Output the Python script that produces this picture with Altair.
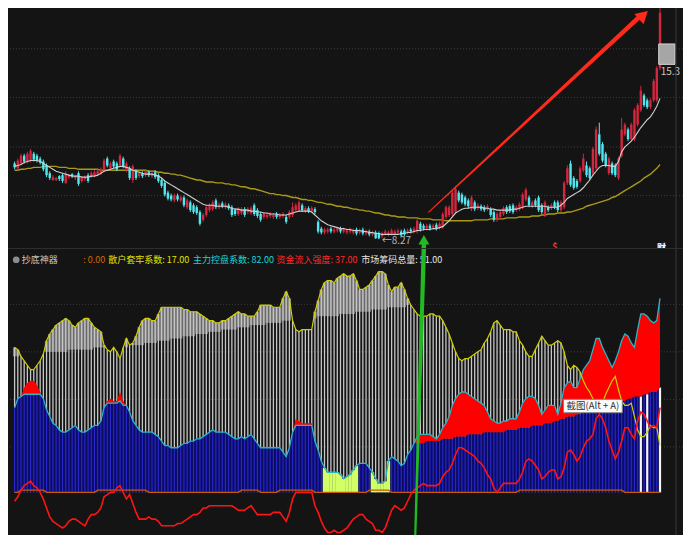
import altair as alt
import pandas as pd

BG = "#141414"
W, H_TOP, H_BOT = 675, 241, 286
X_DOM = [-0.5, 207.63]
P_DOM = [7.87, 17.79]
V_DOM = [-19.13, 109.13]
FONT = "Noto Sans CJK SC"

# ---------------- price panel data ----------------
opens = [
 11.39, 11.19, 11.39, 11.71, 11.47, 11.51, 11.79, 11.71, 11.59, 11.47,
 11.31, 10.99, 10.71, 10.71, 10.87, 10.91, 10.59, 10.83, 10.95, 10.79,
 10.99, 10.67, 10.75, 10.91, 10.87, 10.91, 10.95, 10.99, 11.11, 11.59,
 11.19, 11.47, 11.39, 11.31, 11.59, 11.11, 11.19, 10.71, 11.07, 10.87,
 10.99, 10.91, 11.03, 10.87, 11.03, 10.91, 10.71, 10.59, 10.19, 10.07,
 9.87, 10.07, 9.87, 9.99, 9.59, 9.79, 9.67, 9.59, 9.39, 9.07,
 9.27, 9.47, 9.51, 9.87, 9.59, 9.75, 9.59, 9.67, 9.59, 9.47,
 9.31, 9.35, 9.51, 9.39, 9.35, 9.67, 9.47, 9.31, 9.19, 9.19,
 9.23, 9.19, 9.31, 9.19, 9.23, 9.19, 9.19, 9.27, 9.47, 9.47,
 9.67, 9.43, 9.55, 9.43, 9.51, 8.99, 8.71, 8.55, 8.59, 8.71,
 8.59, 8.63, 8.71, 8.59, 8.55, 8.59, 8.55, 8.67, 8.55, 8.67,
 8.51, 8.59, 8.47, 8.55, 8.51, 8.39, 8.51, 8.47, 8.51, 8.51,
 8.55, 8.59, 8.63, 8.55, 8.67, 8.59, 8.59, 8.91, 8.83, 8.71,
 8.83, 8.75, 8.87, 8.75, 8.79, 9.19, 9.27, 9.31, 9.39, 10.19,
 10.11, 9.99, 9.87, 9.51, 9.79, 9.55, 9.63, 9.59, 9.51, 9.51,
 9.39, 9.07, 9.19, 9.31, 9.59, 9.63, 9.67, 9.47, 9.51, 9.59,
 9.91, 9.99, 9.63, 9.87, 9.99, 9.67, 9.27, 9.59, 9.55, 9.79,
 9.79, 9.47, 9.59, 10.59, 11.39, 10.79, 10.67, 10.67, 11.11, 11.31,
 11.19, 10.99, 11.19, 12.59, 12.19, 11.79, 10.99, 11.39, 11.31, 10.79,
 11.71, 12.59, 12.79, 12.39, 12.39, 12.99, 13.59, 14.19, 13.99, 13.71,
 13.99, 13.99, 15.31]
highs = [
 11.47, 11.59, 11.79, 11.79, 11.87, 11.99, 11.87, 11.79, 11.67, 11.55,
 11.39, 11.07, 10.91, 10.83, 10.91, 10.99, 11.07, 10.95, 10.99, 10.91,
 11.07, 10.87, 10.91, 10.99, 11.07, 11.11, 11.15, 11.23, 11.59, 11.67,
 11.47, 11.55, 11.47, 11.79, 11.67, 11.47, 11.27, 11.35, 11.15, 11.07,
 11.07, 11.15, 11.11, 11.07, 11.11, 10.99, 10.79, 10.67, 10.27, 10.15,
 10.15, 10.15, 10.07, 10.07, 9.95, 9.87, 9.75, 9.67, 9.47, 9.35,
 9.67, 9.75, 9.87, 9.95, 9.79, 9.83, 9.79, 9.75, 9.67, 9.55,
 9.59, 9.59, 9.59, 9.59, 9.63, 9.75, 9.55, 9.39, 9.39, 9.35,
 9.39, 9.35, 9.39, 9.35, 9.39, 9.27, 9.47, 9.79, 9.75, 9.87,
 9.75, 9.63, 9.63, 9.63, 9.59, 9.07, 8.79, 8.75, 8.75, 8.79,
 8.75, 8.79, 8.79, 8.75, 8.71, 8.75, 8.71, 8.75, 8.71, 8.75,
 8.67, 8.67, 8.63, 8.63, 8.59, 8.59, 8.67, 8.63, 8.71, 8.67,
 8.71, 8.67, 8.71, 8.71, 8.75, 8.79, 9.11, 8.99, 8.91, 8.91,
 8.91, 8.91, 8.95, 8.99, 9.39, 9.67, 9.67, 10.27, 10.47, 10.27,
 10.19, 10.07, 9.95, 10.07, 9.87, 9.75, 9.71, 9.67, 9.71, 9.59,
 9.47, 9.39, 9.47, 9.63, 9.67, 9.71, 9.75, 9.67, 9.79, 10.19,
 10.39, 10.07, 9.87, 9.95, 10.07, 9.75, 9.87, 9.67, 9.75, 9.87,
 9.87, 9.87, 10.67, 11.31, 11.51, 10.87, 10.75, 11.27, 11.79, 11.47,
 11.27, 12.07, 12.91, 13.07, 12.27, 11.87, 11.67, 11.47, 11.39, 11.67,
 13.27, 13.07, 12.87, 13.07, 13.67, 13.87, 14.59, 14.27, 14.07, 14.07,
 14.87, 15.39, 18.59]
lows = [
 11.15, 11.11, 11.31, 11.39, 11.39, 11.43, 11.47, 11.43, 11.35, 11.07,
 10.83, 10.71, 10.67, 10.67, 10.67, 10.59, 10.55, 10.75, 10.79, 10.71,
 10.47, 10.59, 10.67, 10.59, 10.79, 10.83, 10.87, 10.91, 11.03, 11.23,
 11.11, 11.19, 11.07, 11.23, 11.19, 11.03, 10.71, 10.59, 10.71, 10.79,
 10.79, 10.83, 10.83, 10.79, 10.75, 10.59, 10.39, 10.03, 9.87, 9.83,
 9.79, 9.83, 9.79, 9.59, 9.51, 9.39, 9.31, 9.27, 8.83, 8.99,
 9.19, 9.39, 9.43, 9.51, 9.51, 9.55, 9.51, 9.47, 9.19, 9.23,
 9.23, 9.27, 9.19, 9.31, 9.27, 9.23, 9.15, 8.99, 9.11, 9.11,
 9.15, 9.11, 9.11, 9.11, 9.15, 8.91, 9.11, 9.19, 9.39, 9.39,
 9.39, 9.35, 9.35, 9.35, 9.31, 8.51, 8.47, 8.47, 8.51, 8.51,
 8.51, 8.55, 8.51, 8.51, 8.47, 8.51, 8.47, 8.43, 8.47, 8.43,
 8.43, 8.39, 8.39, 8.29, 8.27, 8.31, 8.43, 8.39, 8.43, 8.43,
 8.47, 8.35, 8.39, 8.47, 8.51, 8.51, 8.51, 8.59, 8.63, 8.63,
 8.63, 8.67, 8.63, 8.67, 8.71, 9.11, 9.19, 9.23, 9.31, 9.79,
 9.71, 9.63, 9.55, 9.43, 9.43, 9.47, 9.43, 9.39, 9.43, 9.19,
 8.99, 8.99, 9.11, 9.23, 9.31, 9.35, 9.31, 9.39, 9.43, 9.51,
 9.83, 9.59, 9.55, 9.59, 9.39, 9.31, 9.19, 9.39, 9.47, 9.51,
 9.39, 9.39, 9.51, 10.51, 10.43, 10.31, 10.35, 10.59, 11.03, 10.83,
 10.71, 10.91, 11.11, 11.71, 11.43, 11.23, 10.91, 10.91, 10.83, 10.71,
 11.63, 12.51, 12.31, 12.31, 12.31, 12.91, 13.51, 13.71, 13.63, 13.63,
 13.91, 13.91, 15.23]
closes = [
 11.23, 11.51, 11.71, 11.47, 11.79, 11.91, 11.55, 11.51, 11.43, 11.15,
 10.91, 10.79, 10.83, 10.79, 10.75, 10.67, 10.99, 10.91, 10.87, 10.87,
 10.55, 10.79, 10.83, 10.67, 10.99, 11.03, 11.07, 11.15, 11.51, 11.31,
 11.39, 11.27, 11.15, 11.71, 11.27, 11.39, 10.79, 11.27, 10.79, 10.99,
 10.87, 11.07, 10.91, 10.99, 10.83, 10.67, 10.47, 10.11, 9.95, 9.91,
 10.07, 9.91, 9.99, 9.67, 9.87, 9.47, 9.39, 9.35, 8.91, 9.27,
 9.59, 9.67, 9.79, 9.59, 9.71, 9.63, 9.71, 9.55, 9.27, 9.31,
 9.51, 9.51, 9.27, 9.51, 9.55, 9.31, 9.23, 9.07, 9.31, 9.27,
 9.31, 9.27, 9.19, 9.27, 9.31, 8.99, 9.39, 9.59, 9.67, 9.79,
 9.47, 9.55, 9.43, 9.55, 9.39, 8.59, 8.55, 8.67, 8.67, 8.59,
 8.67, 8.71, 8.59, 8.67, 8.63, 8.67, 8.63, 8.51, 8.63, 8.51,
 8.59, 8.47, 8.55, 8.31, 8.31, 8.51, 8.59, 8.55, 8.63, 8.59,
 8.63, 8.43, 8.47, 8.63, 8.59, 8.71, 9.03, 8.67, 8.71, 8.83,
 8.71, 8.83, 8.71, 8.91, 9.31, 9.59, 9.59, 10.19, 10.35, 9.87,
 9.79, 9.71, 9.63, 9.99, 9.51, 9.67, 9.51, 9.47, 9.63, 9.27,
 9.07, 9.31, 9.39, 9.55, 9.39, 9.43, 9.39, 9.59, 9.71, 10.11,
 10.31, 9.67, 9.79, 9.67, 9.47, 9.39, 9.79, 9.47, 9.67, 9.59,
 9.47, 9.79, 10.59, 11.19, 10.51, 10.39, 10.43, 11.19, 11.59, 10.91,
 10.79, 11.99, 12.79, 11.79, 11.51, 11.31, 11.59, 10.99, 10.91, 11.59,
 12.79, 12.99, 12.39, 12.99, 13.59, 13.79, 14.39, 13.79, 13.71, 13.99,
 14.79, 15.31, 17.59]
ma_short = [
 11.27, 11.31, 11.35, 11.43, 11.47, 11.51, 11.51, 11.51, 11.47, 11.39,
 11.31, 11.23, 11.15, 11.07, 11.03, 10.99, 10.95, 10.91, 10.87, 10.87,
 10.87, 10.83, 10.83, 10.83, 10.87, 10.87, 10.91, 10.99, 11.07, 11.11,
 11.15, 11.19, 11.23, 11.27, 11.27, 11.23, 11.19, 11.11, 11.07, 11.03,
 10.99, 10.95, 10.95, 10.95, 10.91, 10.87, 10.79, 10.67, 10.59, 10.51,
 10.43, 10.35, 10.27, 10.19, 10.11, 10.03, 9.95, 9.87, 9.79, 9.71,
 9.67, 9.67, 9.67, 9.63, 9.63, 9.63, 9.63, 9.59, 9.55, 9.51,
 9.51, 9.47, 9.47, 9.47, 9.43, 9.43, 9.39, 9.39, 9.35, 9.35,
 9.31, 9.31, 9.31, 9.27, 9.27, 9.27, 9.31, 9.35, 9.39, 9.43,
 9.43, 9.43, 9.43, 9.39, 9.27, 9.15, 9.03, 8.95, 8.87, 8.83,
 8.79, 8.75, 8.71, 8.71, 8.67, 8.67, 8.63, 8.63, 8.63, 8.59,
 8.59, 8.55, 8.55, 8.51, 8.51, 8.47, 8.47, 8.47, 8.47, 8.47,
 8.47, 8.51, 8.51, 8.55, 8.55, 8.59, 8.63, 8.63, 8.67, 8.67,
 8.67, 8.71, 8.71, 8.75, 8.79, 8.91, 9.03, 9.19, 9.35, 9.43,
 9.51, 9.55, 9.55, 9.59, 9.59, 9.59, 9.59, 9.55, 9.55, 9.51,
 9.51, 9.47, 9.47, 9.47, 9.47, 9.47, 9.51, 9.51, 9.55, 9.59,
 9.63, 9.63, 9.63, 9.63, 9.63, 9.63, 9.63, 9.59, 9.59, 9.59,
 9.59, 9.67, 9.79, 9.95, 10.03, 10.11, 10.19, 10.27, 10.39, 10.55,
 10.71, 10.91, 11.07, 11.23, 11.31, 11.31, 11.31, 11.27, 11.27, 11.47,
 11.87, 12.07, 12.19, 12.31, 12.47, 12.67, 12.87, 13.03, 13.19, 13.31,
 13.51, 13.75, 14.07]
ma_long = [
 11.11, 11.11, 11.15, 11.15, 11.19, 11.19, 11.23, 11.23, 11.23, 11.27,
 11.27, 11.27, 11.27, 11.27, 11.23, 11.23, 11.23, 11.19, 11.19, 11.19,
 11.15, 11.15, 11.15, 11.15, 11.15, 11.15, 11.15, 11.11, 11.11, 11.11,
 11.11, 11.11, 11.11, 11.11, 11.11, 11.11, 11.11, 11.11, 11.11, 11.11,
 11.11, 11.11, 11.07, 11.07, 11.07, 11.03, 11.03, 10.99, 10.99, 10.95,
 10.95, 10.91, 10.91, 10.87, 10.83, 10.79, 10.75, 10.71, 10.71, 10.67,
 10.63, 10.63, 10.63, 10.59, 10.59, 10.59, 10.55, 10.55, 10.51, 10.51,
 10.47, 10.43, 10.43, 10.39, 10.35, 10.35, 10.31, 10.27, 10.23, 10.19,
 10.15, 10.15, 10.11, 10.11, 10.07, 10.07, 10.03, 9.99, 9.99, 9.95,
 9.91, 9.91, 9.87, 9.87, 9.83, 9.79, 9.79, 9.75, 9.71, 9.71,
 9.67, 9.63, 9.63, 9.59, 9.59, 9.55, 9.51, 9.51, 9.47, 9.47,
 9.43, 9.43, 9.39, 9.35, 9.35, 9.31, 9.27, 9.27, 9.23, 9.23,
 9.19, 9.19, 9.19, 9.15, 9.15, 9.15, 9.15, 9.11, 9.11, 9.11,
 9.11, 9.07, 9.07, 9.07, 9.07, 9.03, 9.03, 9.03, 9.03, 9.03,
 9.03, 9.03, 9.03, 9.03, 9.07, 9.07, 9.07, 9.07, 9.07, 9.11,
 9.11, 9.11, 9.11, 9.11, 9.15, 9.15, 9.15, 9.15, 9.19, 9.19,
 9.19, 9.19, 9.23, 9.23, 9.23, 9.27, 9.27, 9.31, 9.31, 9.31,
 9.35, 9.35, 9.35, 9.39, 9.39, 9.43, 9.47, 9.51, 9.55, 9.63,
 9.67, 9.71, 9.75, 9.79, 9.83, 9.87, 9.91, 9.99, 10.03, 10.11,
 10.19, 10.27, 10.35, 10.43, 10.51, 10.59, 10.67, 10.79, 10.87, 10.95,
 11.07, 11.19, 11.35]

top_grid = [10.07, 12.07, 14.11, 16.11]

# ---------------- indicator panel data ----------------
gray_top = [
 65, 64, 61, 59, 57, 55, 55, 57, 59, 62,
 68, 71, 73, 75, 76, 77, 78, 77, 75, 74,
 76, 77, 78, 78, 76, 74, 73, 72, 66, 64,
 63, 65, 63, 60, 65, 69, 66, 67, 70, 74,
 77, 78, 78, 77, 77, 80, 83, 83, 83, 83,
 83, 83, 83, 82, 82, 81, 81, 81, 80, 79,
 78, 77, 77, 76, 76, 77, 77, 78, 79, 80,
 81, 80, 80, 79, 79, 79, 81, 84, 84, 84,
 84, 83, 83, 83, 87, 90, 87, 77, 73, 72,
 73, 73, 73, 73, 81, 86, 91, 94, 95, 95,
 94, 96, 97, 98, 97, 97, 98, 95, 91, 91,
 92, 93, 95, 97, 99, 99, 98, 93, 90, 92,
 92, 94, 91, 87, 84, 82, 80, 79, 79, 79,
 80, 80, 79, 79, 77, 74, 71, 67, 63, 60,
 59, 60, 60, 61, 62, 63, 64, 67, 69, 72,
 76, 77, 75, 73, 73, 73, 72, 72, 68, 66,
 63, 61, 61, 64, 67, 70, 68, 66, 66, 67,
 68, 67, 63, 57, 55, 57, 56, 54, 50, 47,
 45, 42, 39, 37, 40, 44, 47, 50, 52, 46,
 41, 39, 39, 40, 34, 28, 25, 25, 27, 30,
 29, 29, 21]
light_base = [
 61, 61, 61, 61, 62, 62, 62, 62, 62, 62,
 63, 63, 63, 63, 63, 63, 63, 64, 64, 64,
 64, 64, 64, 64, 64, 65, 65, 65, 65, 65,
 65, 65, 65, 65, 65, 65, 66, 66, 66, 66,
 66, 67, 67, 67, 67, 68, 68, 68, 68, 69,
 69, 69, 69, 70, 70, 70, 70, 71, 71, 71,
 71, 72, 72, 72, 72, 73, 73, 73, 73, 73,
 74, 74, 74, 74, 75, 75, 75, 75, 75, 76,
 76, 76, 76, 76, 77, 77, 77, 77, 77, 78,
 78, 78, 78, 78, 78, 79, 79, 79, 79, 79,
 79, 79, 80, 80, 80, 80, 80, 81, 81, 81,
 81, 81, 82, 82, 82, 82, 82, 83, 83, 83,
 83, 83, 83, 84, 84, 84, 84, 85, 85, 85,
 85, 86, 86, 86, 86, 86, 87, 87, 87, 87,
 87, 88, 88, 88, 88, 88, 89, 89, 89, 89,
 89, 89, 90, 90, 90, 90, 90, 90, 91, 91,
 91, 91, 91, 91, 92, 92, 92, 92, 92, 92,
 93, 93, 93, 93, 93, 93, 94, 94, 94, 94,
 94, 94, 95, 95, 95, 95, 95, 95, 96, 96,
 96, 96, 96, 96, 96, 97, 97, 97, 97, 97,
 97, 98, 98]
cyan_line = [
 38, 42, 43, 44, 44, 44, 44, 44, 44, 42,
 37, 34, 31, 30, 28, 27, 27, 28, 29, 30,
 28, 27, 27, 28, 29, 30, 30, 32, 38, 40,
 40, 40, 40, 41, 39, 39, 36, 32, 30, 28,
 27, 27, 27, 27, 26, 25, 23, 21, 21, 20,
 20, 20, 21, 22, 22, 23, 23, 24, 24, 25,
 26, 27, 28, 27, 27, 27, 27, 26, 25, 24,
 24, 25, 24, 25, 26, 24, 22, 20, 20, 20,
 20, 20, 20, 20, 18, 16, 20, 27, 30, 30,
 30, 30, 30, 30, 23, 19, 14, 11, 9, 9,
 9, 9, 8, 6, 7, 8, 10, 12, 13, 13,
 13, 11, 9, 6, 4, 4, 5, 14, 16, 15,
 14, 12, 13, 17, 19, 22, 25, 26, 26, 26,
 26, 25, 24, 26, 29, 31, 34, 39, 42, 44,
 45, 45, 44, 43, 42, 41, 40, 39, 36, 33,
 32, 31, 31, 32, 32, 33, 33, 33, 36, 40,
 42, 43, 43, 42, 39, 35, 37, 39, 39, 39,
 35, 40, 47, 49, 50, 47, 47, 51, 55, 57,
 59, 64, 69, 69, 65, 62, 59, 56, 59, 63,
 68, 71, 70, 67, 65, 73, 80, 80, 79, 77,
 76, 77, 87]
blue_rise = [          # blue bars from bar 126 on (before that they reach the cyan line)
 22, 22, 22, 23,
 23, 23, 23, 23, 24, 24, 24, 24, 25, 25,
 25, 25, 26, 26, 26, 26, 26, 27, 27, 27,
 27, 27, 27, 27, 28, 28, 28, 28, 29, 29,
 29, 29, 30, 30, 30, 30, 31, 31, 31, 32,
 32, 33, 33, 34, 34, 34, 35, 35, 36, 36,
 37, 37, 38, 38, 38, 39, 39, 40, 40, 40,
 41, 41, 42, 42, 43, 43, 43, 44, 44, 45,
 45, 45, 47]
red_line = [
 -4, -2, 1, 3, 4, 5, 3, 2, 0, -3,
 -7, -11, -13, -14, -15, -16, -15, -13, -12, -12,
 -13, -14, -15, -12, -10, -10, -9, -7, -2, -1,
 0, 0, 2, 3, 0, -3, -1, -5, -9, -12,
 -12, -12, -11, -12, -12, -13, -15, -15, -15, -15,
 -15, -14, -14, -13, -12, -11, -10, -10, -9, -7,
 -7, -6, -6, -6, -6, -6, -6, -6, -6, -7,
 -8, -8, -8, -7, -6, -8, -10, -10, -10, -10,
 -10, -9, -9, -9, -11, -13, -9, -3, 0, 0,
 0, 0, 0, 0, -6, -9, -13, -16, -18, -18,
 -17, -18, -18, -17, -16, -14, -12, -11, -10, -10,
 -12, -13, -14, -17, -17, -18, -16, -12, -8, -6,
 -7, -8, -7, -4, -1, 1, 2, 3, 4, 3,
 3, 3, 3, 4, 7, 9, 10, 13, 17, 20,
 20, 19, 18, 17, 16, 14, 13, 11, 8, 6,
 2, 0, 2, 4, 4, 4, 4, 4, 6, 9,
 14, 15, 14, 12, 10, 6, 7, 9, 10, 10,
 6, 7, 11, 18, 19, 17, 14, 16, 20, 23,
 24, 26, 33, 35, 33, 29, 23, 19, 15, 18,
 23, 29, 29, 26, 24, 32, 36, 35, 32, 29,
 30, 29, 38]
base_flag = [
 0, 0, 1, 1, 1, 1, 1, 1, 1, 1,
 0, 0, 0, 0, 0, 0, 0, 0, 0, 0,
 0, 0, 0, 0, 0, 0, 1, 1, 1, 1,
 1, 1, 1, 1, 1, 1, 1, 1, 1, 1,
 1, 1, 0, 0, 0, 0, 0, 0, 0, 0,
 0, 0, 0, 0, 0, 0, 0, 0, 0, 0,
 0, 0, 0, 0, 0, 0, 0, 0, 0, 0,
 0, 1, 1, 1, 1, 1, 1, 0, 0, 0,
 0, 0, 0, 1, 1, 1, 1, 1, 1, 1,
 1, 1, 1, 1, 0, 0, 0, 0, 0, 0,
 0, 0, 0, 0, 0, 0, 0, 0, 0, 0,
 0, 1, 1, 1, 1, 1, 1, 1, 0, 0,
 0, 0, 0, 0, 0, 0, 0, 0, 0, 0,
 0, 0, 0, 0, 0, 0, 0, 0, 0, 0,
 0, 0, 0, 0, 0, 0, 0, 0, 0, 0,
 0, 0, 0, 0, 0, 0, 0, 0, 1, 1,
 1, 1, 1, 1, 1, 1, 1, 1, 1, 1,
 1, 1, 1, 1, 1, 1, 1, 1, 1, 1,
 1, 1, 1, 1, 1, 1, 1, 1, 1, 1,
 1, 0, 0, 0, 0, 0, 0, 0, 0, 0,
 0, 0, 0]
lime_bars = [97, 98, 99, 100, 101, 102, 103, 104, 105, 106, 107,
             112, 113, 114, 115, 116, 117]
white_bars = [196, 198, 202]
peak_group = [1, 1, 1, 1, 1, 1, 1, 1, 2, 2, 2, 2, 2, 2, 2, 2, 3, 3, 3, 3, 3, 3, 3, 3]
peak_i = [2, 3, 4, 5, 6, 7, 8, 9, 28, 29, 30, 31, 32, 33, 34, 35, 87, 88, 89, 90, 91, 92, 93, 94]
peak_top = [43, 47, 49, 50, 50, 48, 45, 42, 38, 41, 42, 41, 41, 45, 41, 39, 27, 33, 32, 31, 31, 31, 31, 23]
bot_grid = [84.3, 63.0, 41.7, 20.4]

header_x = [2.2, 21.5, 29.3, 55.8, 82.0, 108.5]
header_text = ["抄底神器", ": 0.00", "散户套牢系数: 17.00", "主力控盘系数: 82.00",
               "资金流入强度: 37.00", "市场筹码总量: 51.00"]
header_color = ["#c8c8c8", "#d26a00", "#e2e200", "#1ad4d4", "#ff2a2a", "#e8e8e8"]

n = len(opens)
lens = [len(v) for v in (opens, highs, lows, closes, ma_short, ma_long, gray_top,
                         light_base, cyan_line, red_line, base_flag)]
assert all(l == n for l in lens) and 126 + len(blue_rise) == n, lens

blue_top = cyan_line[:126] + blue_rise
kind = ["lime" if i in lime_bars else ("white" if i in white_bars else "blue") for i in range(n)]

df = pd.DataFrame({
    "i": list(range(n)), "open": opens, "high": highs, "low": lows, "close": closes,
    "ma_short": ma_short, "ma_long": ma_long,
    "gray_top": gray_top, "light_base": light_base, "cyan": cyan_line,
    "blue_top": blue_top, "red_line": red_line, "base_flag": base_flag, "kind": kind,
})
df["dir"] = ["up" if c >= o else "down" for o, c in zip(opens, closes)]

peaks = pd.DataFrame({"g": peak_group, "i": peak_i, "top": peak_top,
                      "base": [cyan_line[k] for k in peak_i]})

xs = alt.Scale(domain=X_DOM, nice=False, zero=False)
ps = alt.Scale(domain=P_DOM, nice=False, zero=False)
vs = alt.Scale(domain=V_DOM, nice=False, zero=False)
X = alt.X("i:Q", scale=xs, axis=None)

def PY(f):
    return alt.Y(f, scale=ps, axis=None)

def VY(f):
    return alt.Y(f, scale=vs, axis=None)

RED_C, CYAN_C = "#d3263f", "#52e8f0"
candle_col = alt.Color("dir:N", scale=alt.Scale(domain=["up", "down"], range=[RED_C, CYAN_C]), legend=None)

# ---------------- top panel ----------------
tb = alt.Chart(df)
t_grid = alt.Chart(pd.DataFrame({"p": top_grid})).mark_rule(
    color="#3c3c3c", strokeDash=[1, 2], strokeWidth=1, clip=True).encode(y=PY("p:Q"))
t_wick = tb.mark_rule(strokeWidth=1, clip=True).encode(x=X, y=PY("low:Q"), y2="high:Q", color=candle_col)
t_body = tb.mark_bar(size=2.4, clip=True).encode(x=X, y=PY("open:Q"), y2="close:Q", color=candle_col)
t_ma1 = tb.mark_line(color="#cfcfcf", strokeWidth=1.1, clip=True).encode(x=X, y=PY("ma_short:Q"))
t_ma2 = tb.mark_line(color="#a89a16", strokeWidth=1.4, clip=True).encode(x=X, y=PY("ma_long:Q"))

arrow = pd.DataFrame({"i": [129.6, 195.6], "p": [9.39, 17.43], "w": [1.2, 4.5]})
t_arrow = alt.Chart(arrow).mark_trail(color="#ff2a1a", clip=True).encode(
    x=alt.X("i:Q", scale=xs, axis=None), y=PY("p:Q"), size=alt.Size("w:Q", scale=None, legend=None))
t_head = alt.Chart(pd.DataFrame({"i": [196.8], "p": [17.5]})).mark_point(
    shape="triangle-up", filled=True, angle=48, size=190, color="#ff2a1a", opacity=1, clip=True
).encode(x=X, y=PY("p:Q"))

g_top = pd.DataFrame({"i": [128.1, 128.05], "p": [8.09, 7.78], "w": [4.5, 4.5]})
t_green = alt.Chart(g_top).mark_trail(color="#22b922", clip=True).encode(
    x=X, y=PY("p:Q"), size=alt.Size("w:Q", scale=None, legend=None))
t_ghead = alt.Chart(pd.DataFrame({"i": [128.1], "p": [8.25]})).mark_point(
    shape="triangle-up", filled=True, size=120, color="#22b922", opacity=1, clip=True
).encode(x=X, y=PY("p:Q"))

box = pd.DataFrame({"i": [201.6], "i2": [206.7], "p": [16.31], "p2": [15.47]})
t_box = alt.Chart(box).mark_rect(color="#a6a6a6", stroke="#d4d4d4", strokeWidth=1, clip=True).encode(
    x=X, x2="i2:Q", y=PY("p:Q"), y2="p2:Q")
cai = pd.DataFrame({"i": [201.3], "i2": [203.7], "p": [8.11], "p2": [7.71]})
t_cai = alt.Chart(cai).mark_rect(color="#2f52a4", clip=True).encode(x=X, x2="i2:Q", y=PY("p:Q"), y2="p2:Q")

labels = pd.DataFrame({
    "i": [202.2, 114.9, 169.1, 202.5],
    "p": [15.15, 8.19, 7.95, 7.93],
    "t": ["15.3", "←8.27", "$", "财"],
    "c": ["#c8c8c8", "#b4b4b4", "#ff3030", "#ffffff"],
})
t_lab1 = alt.Chart(labels.iloc[:2]).mark_text(align="left", baseline="middle", fontSize=10, font=FONT, clip=True).encode(
    x=X, y=PY("p:Q"), text="t:N", color=alt.Color("c:N", scale=None))
t_lab2 = alt.Chart(labels.iloc[2:]).mark_text(align="center", baseline="middle", fontSize=9, fontWeight="bold", font=FONT, clip=True).encode(
    x=X, y=PY("p:Q"), text="t:N", color=alt.Color("c:N", scale=None))
t_edge = alt.Chart(pd.DataFrame({"i": [207.0]})).mark_rule(color="#3a3a3a", strokeWidth=1, clip=True).encode(x=X)
t_div = alt.Chart(pd.DataFrame({"p": [7.89]})).mark_rule(color="#2e2e2e", strokeWidth=1, clip=True).encode(y=PY("p:Q"))

top = alt.layer(t_grid, t_ma2, t_wick, t_body, t_ma1, t_arrow, t_head, t_green, t_ghead,
                t_box, t_cai, t_lab1, t_lab2, t_edge, t_div).properties(width=W, height=H_TOP)

# ---------------- bottom panel ----------------
bb = alt.Chart(df)
b_grid = alt.Chart(pd.DataFrame({"v": bot_grid})).mark_rule(
    color="#3c3c3c", strokeDash=[1, 2], strokeWidth=1, clip=True).encode(y=VY("v:Q"))
b_light = bb.transform_calculate(lo="min(datum.light_base, datum.gray_top)").mark_bar(
    size=3.35, color="#7c7c7c", clip=True).encode(x=X, y=VY("lo:Q"), y2="gray_top:Q")
b_gray = bb.mark_rule(color="#c6c6c6", strokeWidth=1.3, clip=True).encode(x=X, y=VY("gray_top:Q"), y2=alt.datum(0))
b_navy = bb.mark_bar(size=3.4, color="#0c0c68", clip=True).encode(x=X, y=VY("blue_top:Q"), y2=alt.datum(0))
b_blue = bb.transform_filter("datum.kind == 'blue'").mark_rule(color="#2828cc", strokeWidth=1.1, clip=True).encode(
    x=X, y=VY("blue_top:Q"), y2=alt.datum(0))
b_lime = bb.transform_filter("datum.kind == 'lime'").mark_bar(size=3.45, color="#d2ff66", clip=True).encode(
    x=X, y=VY("blue_top:Q"), y2=alt.datum(0))
b_white = bb.transform_filter("datum.kind == 'white'").mark_rule(color="#f6f6f6", strokeWidth=2.2, clip=True).encode(
    x=X, y=VY("blue_top:Q"), y2=alt.datum(0))
b_red = bb.mark_area(color="#ff0000", clip=True).encode(x=X, y=VY("cyan:Q"), y2="blue_top:Q")
b_peaks = alt.Chart(peaks).mark_area(color="#ff0000", clip=True).encode(
    x=X, y=VY("top:Q"), y2="base:Q", detail="g:N")
b_base = bb.mark_line(color="#c85a00", strokeWidth=1.4, clip=True).encode(x=X, y=VY("base_flag:Q"))
b_cyan = bb.mark_line(color="#2cb4c4", strokeWidth=1.3, clip=True).encode(x=X, y=VY("cyan:Q"))
b_yel = bb.mark_line(color="#d0d000", strokeWidth=1.2, clip=True).encode(x=X, y=VY("gray_top:Q"))
b_rline = bb.mark_line(color="#ff1414", strokeWidth=1.6, clip=True).encode(x=X, y=VY("red_line:Q"))

tip = pd.DataFrame({"i": [171.8], "i2": [190.2], "v": [41.7], "v2": [35.7]})
b_tipbox = alt.Chart(tip).mark_rect(color="#fafafa", stroke="#808080", strokeWidth=1, clip=True).encode(
    x=X, x2="i2:Q", y=VY("v:Q"), y2="v2:Q")
b_tiptxt = alt.Chart(pd.DataFrame({"i": [181.0], "v": [38.7], "t": ["截图(Alt + A)"]})).mark_text(
    align="center", baseline="middle", fontSize=9.5, color="#333333", font=FONT, clip=True).encode(
    x=X, y=VY("v:Q"), text="t:N")

hdr = pd.DataFrame({"i": header_x, "v": [104.3] * len(header_x), "t": header_text, "c": header_color})
b_hdr = alt.Chart(hdr).mark_text(align="left", baseline="middle", fontSize=9.0, font=FONT, clip=True).encode(
    x=X, y=VY("v:Q"), text="t:N", color=alt.Color("c:N", scale=None))
b_icon = alt.Chart(pd.DataFrame({"i": [0.5], "v": [104.3]})).mark_point(
    shape="circle", filled=True, size=45, color="#8c8c8c", opacity=1, clip=True).encode(x=X, y=VY("v:Q"))

g_bot = pd.DataFrame({"i": [128.08, 125.4], "v": [109.4, -19.4], "w": [4.5, 2.2]})
b_green = alt.Chart(g_bot).mark_trail(color="#22b922", clip=True).encode(
    x=X, y=VY("v:Q"), size=alt.Size("w:Q", scale=None, legend=None))
b_edge = alt.Chart(pd.DataFrame({"i": [207.0]})).mark_rule(color="#3a3a3a", strokeWidth=1, clip=True).encode(x=X)

bottom = alt.layer(b_grid, b_light, b_gray, b_navy, b_blue, b_lime, b_white, b_red, b_peaks,
                   b_base, b_cyan, b_yel, b_rline, b_tipbox, b_tiptxt, b_hdr, b_icon, b_green,
                   b_edge).properties(width=W, height=H_BOT)

chart = alt.vconcat(top, bottom, spacing=0).properties(
    background=BG, padding=0
).configure_view(stroke=None).configure_concat(spacing=0)

chart.save("out.html", embed_options={"renderer": "svg", "actions": False})
